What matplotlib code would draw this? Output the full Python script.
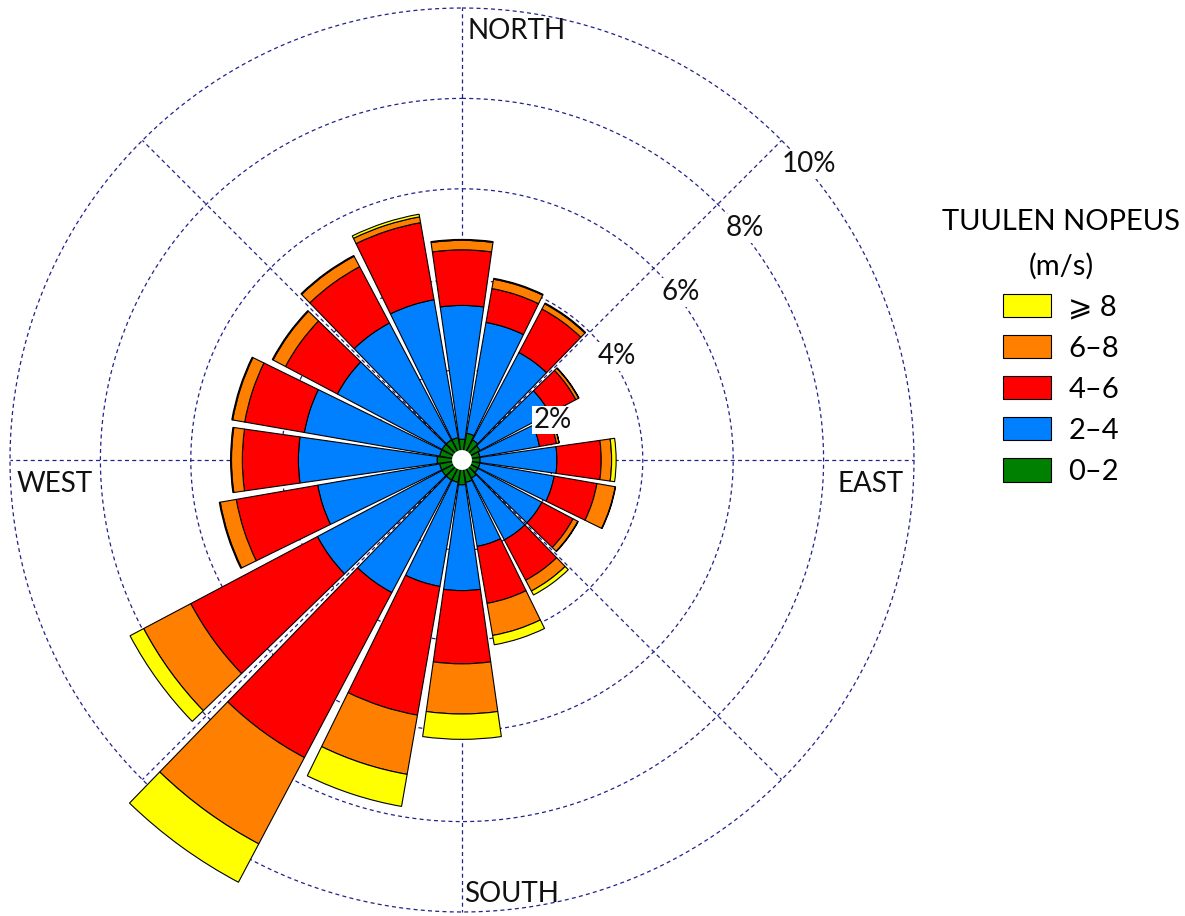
import numpy as np
import matplotlib
matplotlib.use("Agg")
import matplotlib.pyplot as plt
from matplotlib.patches import Patch

# ---------------- data ----------------
directions = [0, 18, 36, 54, 72, 90, 108, 126, 144, 162,
              180, 198, 216, 234, 252, 270, 288, 306, 324, 342]
speed_labels = ["0–2", "2–4", "4–6", "6–8", "⩾ 8"]
speed_colors = ["#008000", "#0080FF", "#FF0000", "#FF8000", "#FFFF00"]

s0_2 = [0.46, 0.60, 0.50, 0.45, 0.40, 0.40, 0.40, 0.40, 0.45, 0.50,
        0.55, 0.50, 0.50, 0.50, 0.50, 0.55, 0.50, 0.50, 0.50, 0.50]
s2_4 = [2.96, 2.49, 2.19, 1.75, 1.34, 1.70, 1.67, 1.60, 1.55, 1.44,
        2.34, 2.34, 2.82, 3.12, 2.74, 3.07, 3.04, 2.62, 2.93, 3.10]
s4_6 = [1.23, 0.76, 1.09, 0.65, 0.38, 0.98, 0.96, 0.78, 1.01, 1.28,
        1.62, 2.89, 4.13, 3.17, 1.83, 1.24, 1.34, 1.30, 1.41, 1.73]
s6_8 = [0.21, 0.21, 0.13, 0.07, 0.06, 0.23, 0.41, 0.12, 0.27, 0.72,
        1.11, 1.33, 2.16, 1.18, 0.36, 0.24, 0.27, 0.31, 0.26, 0.13]
s8_up = [0.02, 0.02, 0.02, 0.01, 0.00, 0.10, 0.01, 0.01, 0.10, 0.21,
         0.56, 0.72, 0.96, 0.34, 0.02, 0.02, 0.02, 0.02, 0.02, 0.06]

ring_values = [2, 4, 6, 8, 10]
ring_labels = ["2%", "4%", "6%", "8%", "10%"]
compass_labels = ["NORTH", "EAST", "SOUTH", "WEST"]
legend_title = "TUULEN NOPEUS\n(m/s)"

# ---------------- figure ----------------
W, H, DPI = 1185, 916, 100
fig = plt.figure(figsize=(W / DPI, H / DPI), dpi=DPI)
plt.rcParams["font.family"] = ["Lato", "DejaVu Sans"]

cx, cy = 462, 460          # centre in pixels (from top-left)
px_per_pct = 45.2
RMAX = 10.7
rad_px = px_per_pct * RMAX
ax = fig.add_axes([(cx - rad_px) / W, (H - cy - rad_px) / H,
                   2 * rad_px / W, 2 * rad_px / H], projection="polar")
ax.set_theta_zero_location("N")
ax.set_theta_direction(-1)
ax.set_ylim(0, RMAX)
ax.set_xticks([])
ax.set_yticks([])
ax.grid(False)
ax.spines["polar"].set_visible(False)
ax.patch.set_alpha(0)

navy = "#22228a"
dash = (0, (3.2, 2.6))
t = np.linspace(0, 2 * np.pi, 721)
for r in ring_values:
    ax.plot(t, np.full_like(t, r), color=navy, lw=0.9, ls=dash, zorder=1)
for a in range(0, 360, 45):
    ax.plot([np.deg2rad(a)] * 2, [0, ring_values[-1]], color=navy, lw=0.9,
            ls=dash, zorder=1)

theta = np.deg2rad(directions)
width = np.deg2rad(18 * 0.9)
bottom = np.zeros(len(directions))
series = [s0_2, s2_4, s4_6, s6_8, s8_up]
for vals, col in zip(series, speed_colors):
    vals = np.array(vals)
    ax.bar(theta, vals, width=width, bottom=bottom, color=col,
           edgecolor="black", linewidth=0.8, zorder=3)
    bottom += vals

# centre hole
ax.bar(0, 0.22, width=2 * np.pi, bottom=0, color="white", edgecolor="none",
       zorder=4)

# ring labels
for r, lab in zip(ring_values, ring_labels):
    ax.annotate(lab, xy=(np.deg2rad(45), r), xytext=(27, -24),
                textcoords="offset pixels", ha="center", va="center",
                fontsize=20, color="#111111", zorder=6,
                bbox=dict(fc="white", ec="none", pad=1.0))

# compass labels
comp = [(0, (5, -23), "left"), (90, (-10, -24), "right"),
        (180, (2, 18), "left"), (270, (7, -24), "left")]
for (ang, off, ha), lab in zip(comp, compass_labels):
    ax.annotate(lab, xy=(np.deg2rad(ang), 10), xytext=off,
                textcoords="offset pixels", ha=ha, va="center",
                fontsize=20, color="#111111", zorder=6,
                annotation_clip=False)

handles = [Patch(facecolor=c, edgecolor="black", linewidth=0.8)
           for c in speed_colors][::-1]
leg = fig.legend(handles, speed_labels[::-1], title=legend_title,
                 loc="upper center", bbox_to_anchor=(1061 / W, 1 - 209 / H),
                 frameon=False, fontsize=21, title_fontsize=21,
                 handlelength=1.64, handleheight=0.86, handletextpad=0.6,
                 labelspacing=0.49, borderpad=0, borderaxespad=0)
leg.get_title().set_multialignment("center")
leg.get_title().set_linespacing(1.8)

fig.savefig("out.png", dpi=DPI)
